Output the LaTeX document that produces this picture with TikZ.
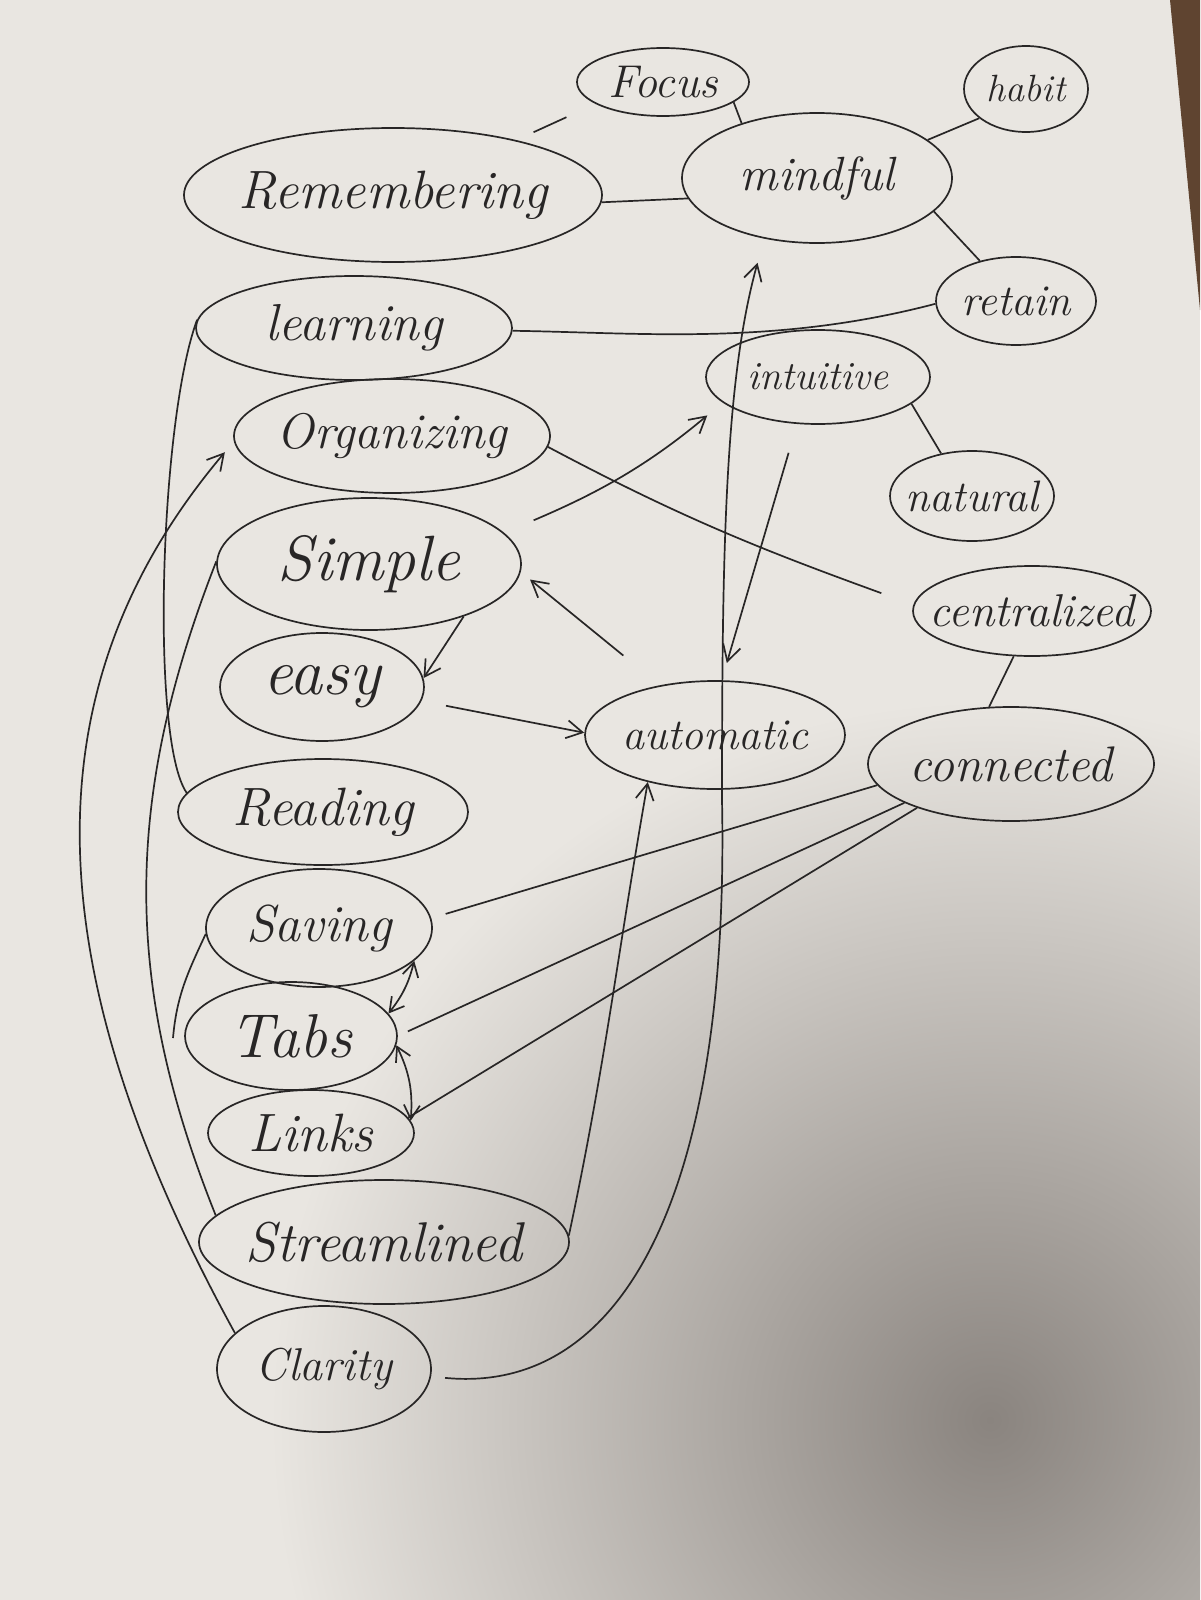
\documentclass[tikz,border=0pt]{standalone}
\usetikzlibrary{shapes.geometric,arrows.meta}
\definecolor{ink}{RGB}{40,38,38}
\definecolor{paper}{RGB}{233,230,225}
\definecolor{shadowc}{RGB}{138,132,127}
\definecolor{wood}{RGB}{95,68,48}
\newcommand{\hand}[2]{\makebox[0pt]{\fontsize{#1}{#1}\selectfont\itshape #2}}
\begin{document}
\begin{tikzpicture}[x=1pt,y=1pt,
  bub/.style={ellipse, draw=ink, line width=1.7pt, inner sep=0pt, text=ink},
  con/.style={draw=ink, line width=1.7pt},
  arrowto/.style={-{Straight Barb[length=16pt,width=18pt]}},
  arrowboth/.style={{Straight Barb[length=14pt,width=16pt]}-{Straight Barb[length=14pt,width=16pt]}}]
\useasboundingbox (0,0) rectangle (1200,-1600);
\fill[paper] (0,0) rectangle (1200,-1600);
\begin{scope}
  \clip (0,0) rectangle (1200,-1600);
  \shade[inner color=shadowc, outer color=paper] (990,-1420) circle (720);
\end{scope}
\fill[wood] (1170,0) -- (1200,0) -- (1200,-310) -- cycle;

% nodes
\node[bub, minimum width=172pt, minimum height=68pt] (Focus) at (663,-82) {\hand{46}{Focus}};
\node[bub, minimum width=124pt, minimum height=86pt] (habit) at (1026,-89) {\hand{38}{habit}};
\node[bub, minimum width=418pt, minimum height=134pt] (Rem) at (393,-195) {\hand{54}{Remembering}};
\node[bub, minimum width=270pt, minimum height=130pt] (mindful) at (817,-178) {\hand{48}{mindful}};
\node[bub, minimum width=160pt, minimum height=88pt] (retain) at (1016,-301) {\hand{44}{retain}};
\node[bub, minimum width=316pt, minimum height=104pt] (learning) at (354,-328) {\hand{52}{learning}};
\node[bub, minimum width=224pt, minimum height=94pt] (intuitive) at (818,-377) {\hand{40}{intuitive}};
\node[bub, minimum width=316pt, minimum height=114pt] (Org) at (392,-436) {\hand{50}{Organizing}};
\node[bub, minimum width=164pt, minimum height=90pt] (natural) at (972,-496) {\hand{44}{natural}};
\node[bub, minimum width=304pt, minimum height=132pt] (Simple) at (369,-564) {\hand{64}{Simple}};
\node[bub, minimum width=238pt, minimum height=90pt] (centralized) at (1032,-611) {\hand{46}{centralized}};
\node[bub, minimum width=204pt, minimum height=108pt] (easy) at (322,-687) {\hand{66}{easy}};
\node[bub, minimum width=260pt, minimum height=108pt] (automatic) at (715,-735) {\hand{44}{automatic}};
\node[bub, minimum width=286pt, minimum height=114pt] (connected) at (1011,-764) {\hand{50}{connected}};
\node[bub, minimum width=290pt, minimum height=106pt] (Reading) at (323,-812) {\hand{54}{Reading}};
\node[bub, minimum width=226pt, minimum height=118pt] (Saving) at (319,-928) {\hand{52}{Saving}};
\node[bub, minimum width=212pt, minimum height=108pt] (Tabs) at (291,-1036) {\hand{62}{Tabs}};
\node[bub, minimum width=206pt, minimum height=86pt] (Links) at (311,-1133) {\hand{54}{Links}};
\node[bub, minimum width=370pt, minimum height=124pt] (Streamlined) at (384,-1242) {\hand{56}{Streamlined}};
\node[bub, minimum width=214pt, minimum height=126pt] (Clarity) at (324,-1369) {\hand{46}{Clarity}};

\coordinate (w) at (722,-800);
\coordinate (stub) at (173,-1038);

% plain links
\draw[con, shorten <=19pt, shorten >=32pt] (Rem.24) -- (Focus.198);
\draw[con] (Focus.-16) -- (mindful.144);
\draw[con] (habit.212) -- (mindful.19);
\draw[con] (Rem.-2) -- (mindful.189);
\draw[con] (mindful.-16) -- (retain.132);
\draw[con] (learning.-1) .. controls +(130,-2) and +(-160,-42) .. (retain.182);
\draw[con] (intuitive.-16) -- (natural.126);
\draw[con, shorten >=34pt] (Org.-4) to[out=-28, in=160] (centralized.177);
\draw[con] (centralized.-112) -- (connected.111);
\draw[con] (learning.177) .. controls (160,-420) and (150,-740) .. (Reading.172);
\draw[con] (Simple.179) .. controls (123,-800) and (123,-984) .. (Streamlined.171);
\draw[con] (Saving.183) to[out=-115, in=85] (stub);
\draw[con, shorten <=15pt] (Saving.5) -- (connected.189);
\draw[con, shorten <=11pt] (Tabs.0) -- (connected.200);
\draw[con] (Links.9) -- (connected.205);

% arrows
\draw[con, arrowto, shorten <=32pt, shorten >=20pt] (Simple.13) to[out=23, in=220] (intuitive.195);
\draw[con, arrowto, shorten <=30pt, shorten >=18pt] (intuitive.-114) -- (automatic.83);
\draw[con, arrowto, shorten <=47pt, shorten >=12pt] (automatic.138) -- (Simple.-3);
\draw[con, arrowto] (Simple.-29) -- (easy.5);
\draw[con, arrowto, shorten <=25pt] (easy.-8) -- (automatic.179);
\draw[con, arrowto] (Streamlined.2) to[out=78, in=-100] (automatic.215);
\draw[con, arrowto, shorten <=14pt, shorten >=25pt] (Clarity.-4) .. controls (620,-1395) and (730,-1200) .. (w) .. controls (722,-550) and (725,-380) .. (mindful.229);
\draw[con, arrowto, shorten >=14pt] (Clarity.158) .. controls (30,-960) and (30,-683) .. (Org.182);
\draw[con, arrowboth] (Saving.-19) to[bend left=12] (Tabs.13);
\draw[con, arrowboth] (Tabs.-5) to[bend left=15] (Links.7);
\end{tikzpicture}
\end{document}
